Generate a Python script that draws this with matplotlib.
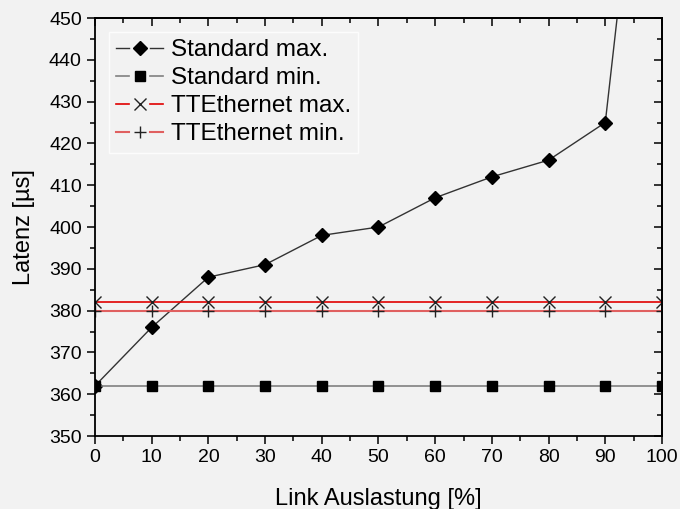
import numpy as np
import matplotlib.pyplot as plt
from matplotlib.lines import Line2D
from matplotlib.legend_handler import HandlerBase
from matplotlib.ticker import MultipleLocator

plt.rcParams["font.family"] = ["Liberation Sans", "DejaVu Sans"]

load = [0, 10, 20, 30, 40, 50, 60, 70, 80, 90, 100]
std_max = [362, 376, 388, 391, 398, 400, 407, 412, 416, 425, 545]
std_min = [362, 362, 362, 362, 362, 362, 362, 362, 362, 362, 362]
tte_max = [382, 382, 382, 382, 382, 382, 382, 382, 382, 382, 382]
tte_min = [380, 380, 380, 380, 380, 380, 380, 380, 380, 380, 380]
names = ["Standard max.", "Standard min.", "TTEthernet max.", "TTEthernet min."]


class GapLineHandler(HandlerBase):
    # legend sample "—◆—": line, gap, marker, gap, line
    def create_artists(self, legend, orig, xdescent, ydescent, width, height, fontsize, trans):
        y = height / 2 - ydescent
        x0 = -xdescent
        x1 = x0 + width
        xm = (x0 + x1) / 2
        gap = 0.22 * width
        out = []
        for a, b in [(x0, xm - gap), (xm + gap, x1)]:
            out.append(Line2D([a, b], [y, y], color=orig.get_color(), lw=orig.get_linewidth()))
        out.append(Line2D([xm], [y], ls="none", marker=orig.get_marker(), ms=orig.get_markersize(),
                          mfc=orig.get_markerfacecolor(), mec=orig.get_markeredgecolor(),
                          mew=orig.get_markeredgewidth()))
        for art in out:
            art.set_transform(trans)
        return out


bg = "#f2f2f2"
fig = plt.figure(figsize=(6.8, 5.09), dpi=100, facecolor=bg)
ax = fig.add_axes([0.1397, 0.1434, 0.8338, 0.8212], facecolor=bg)

styles = [
    dict(color="#333333", lw=1.0, marker="D", ms=7, mfc="black", mec="black"),
    dict(color="#808080", lw=1.2, marker="s", ms=7, mfc="black", mec="black"),
    dict(color="#e00000", lw=1.2, marker="x", ms=8, mec="#222222", mew=1),
    dict(color="#e06060", lw=1.5, marker="+", ms=8, mec="#222222", mew=1),
]
series = [std_max, std_min, tte_max, tte_min]
lines = []
for ys, st in zip(series, styles):
    lines.append(ax.plot(load, ys, **st)[0])

ax.set_xlim(0, 100)
ax.set_ylim(350, 450)
ax.xaxis.set_major_locator(MultipleLocator(10))
ax.xaxis.set_minor_locator(MultipleLocator(5))
ax.yaxis.set_major_locator(MultipleLocator(10))
ax.yaxis.set_minor_locator(MultipleLocator(5))

ax.tick_params(axis="both", which="both", direction="out", labelsize=14, width=1.1, colors="black")
ax.tick_params(which="major", length=6)
ax.tick_params(which="minor", length=3.5)
ax.tick_params(axis="x", which="both", top=False)
ax.tick_params(axis="y", which="both", right=False)

# inward ticks on top and right
ax_t = ax.secondary_xaxis("top")
ax_t.xaxis.set_major_locator(MultipleLocator(10))
ax_t.xaxis.set_minor_locator(MultipleLocator(5))
ax_t.tick_params(which="both", direction="in", labeltop=False, width=1.1)
ax_t.tick_params(which="major", length=6)
ax_t.tick_params(which="minor", length=3.5)
ax_r = ax.secondary_yaxis("right")
ax_r.yaxis.set_major_locator(MultipleLocator(10))
ax_r.yaxis.set_minor_locator(MultipleLocator(5))
ax_r.tick_params(which="both", direction="in", labelright=False, width=1.1)
ax_r.tick_params(which="major", length=6)
ax_r.tick_params(which="minor", length=3.5)
ax_t.spines["top"].set_linewidth(1.3)
ax_r.spines["right"].set_linewidth(1.3)

for s in ax.spines.values():
    s.set_linewidth(1.3)

ax.set_xlabel("Link Auslastung [%]", fontsize=17, labelpad=16)
ax.set_ylabel("Latenz [µs]", fontsize=17, labelpad=10)

leg = ax.legend(lines, names, loc="upper left", bbox_to_anchor=(0.024, 0.967), fontsize=17.5,
                frameon=True, fancybox=False, handlelength=1.95, handletextpad=0.3,
                borderpad=0.3, borderaxespad=0, labelspacing=0.25,
                handler_map={Line2D: GapLineHandler()})
leg.get_frame().set_facecolor(bg)
leg.get_frame().set_edgecolor("white")
leg.get_frame().set_linewidth(1)

fig.savefig("out.png", dpi=100, facecolor=bg)
